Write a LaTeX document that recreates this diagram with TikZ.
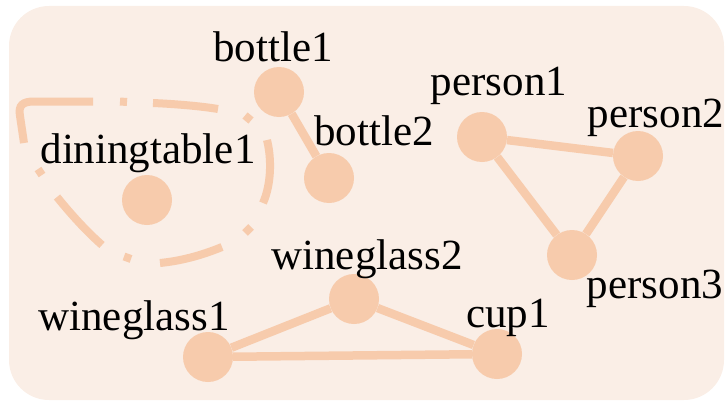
\documentclass[tikz,border=0pt]{standalone}
\usepackage{fontspec}
\setmainfont{Liberation Serif}
\definecolor{panelbg}{RGB}{250,238,230}
\definecolor{peach}{RGB}{247,203,172}
\tikzset{
  obj/.style={circle, fill=peach, minimum size=50pt, inner sep=0pt},
  lbl/.style={anchor=base, inner sep=0pt, font=\fontsize{43}{43}\selectfont, text=black},
  link/.style={draw=peach, line width=8.5pt},
  groupline/.style={draw=peach, line width=8pt}
}
\begin{document}
\begin{tikzpicture}[x=1pt, y=-1pt]
  \useasboundingbox (0,0) rectangle (725,404);
  % rounded panel
  \fill[panelbg, rounded corners=40pt] (9,6) rectangle (724,400);

  % object nodes
  \node[obj] (bottle1) at (279,92) {};
  \node[obj] (bottle2) at (329,178) {};
  \node[obj] (diningtable1) at (147,200) {};
  \node[obj] (person1) at (482,137) {};
  \node[obj] (person2) at (638,156) {};
  \node[obj] (person3) at (572,255) {};
  \node[obj] (wineglass2) at (354,299) {};
  \node[obj] (wineglass1) at (208,357) {};
  \node[obj] (cup1) at (497,354) {};

  % labels
  \node[lbl] (bottle1-l) at (273,62) {bottle1};
  \node[lbl] (bottle2-l) at (374,145) {bottle2};
  \node[lbl] (diningtable1-l) at (148,163) {diningtable1};
  \node[lbl] (person1-l) at (499,95) {person1};
  \node[lbl] (person2-l) at (656,127) {person2};
  \node[lbl] (person3-l) at (655,298) {person3};
  \node[lbl] (wineglass2-l) at (367,269) {wineglass2};
  \node[lbl] (wineglass1-l) at (134,330) {wineglass1};
  \node[lbl] (cup1-l) at (508,327) {cup1};

  % relations
  \draw[link] (bottle1) -- (bottle2);
  \draw[link] (person1) -- (person2);
  \draw[link] (person1) -- (person3);
  \draw[link] (person2) -- (person3);
  \draw[link] (wineglass1) -- (wineglass2);
  \draw[link] (wineglass2) -- (cup1);
  \draw[link] (wineglass1) -- (cup1);

  % dash-dotted group outline around the table
  \draw[groupline] (24,143) -- (20,116) .. controls (18,105) and (23,101.5) .. (34,101.5) -- (93,101.5);
  \draw[groupline] (120,101.5) -- (127,102);
  \draw[groupline] (153,103) .. controls (175,104) and (200,106) .. (218,109);
  \draw[groupline] (245,115.5) -- (251,120.5);
  \draw[groupline] (267,140) .. controls (272,160) and (271,185) .. (263,203);
  \draw[groupline] (251,227) -- (245,233);
  \draw[groupline] (222,247) .. controls (200,256) and (180,261) .. (160,263);
  \draw[groupline] (131,259) -- (124,256.5);
  \draw[groupline] (102,245) .. controls (85,230) and (70,213) .. (57,197);
  \draw[groupline] (42,175) -- (38,169);
\end{tikzpicture}
\end{document}
